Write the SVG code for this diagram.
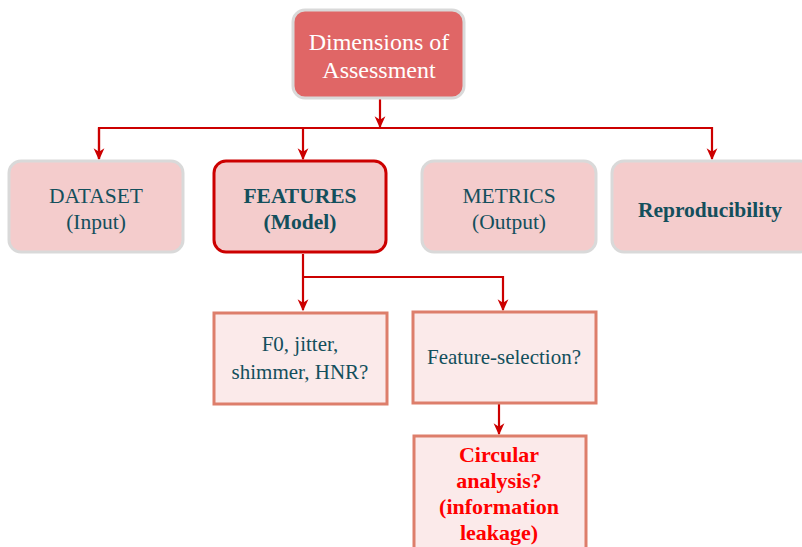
<svg xmlns="http://www.w3.org/2000/svg" width="802" height="547" viewBox="0 0 802 547">
<style>
text{font-family:"Liberation Serif","DejaVu Serif",serif;text-anchor:middle;fill:#134f5c}
.top{fill:#e06666;stroke:#d9d9d9;stroke-width:3}
.mid{fill:#f4cccc;stroke:#d9d9d9;stroke-width:3}
.sel{fill:#f4cccc;stroke:#cc0000;stroke-width:3}
.low{fill:#fbeaea;stroke:#dd7e6b;stroke-width:3}
.t1{font-size:24px;fill:#ffffff}
.t2{font-size:21.5px}
.b{font-weight:bold}
.t3{font-size:21px}
.red{fill:#ff0000;font-weight:bold;font-size:22px}
.c{fill:none;stroke:#cc0000;stroke-width:2.2}
</style>
<defs>
<marker id="ah" viewBox="0 0 10 10" refX="9" refY="5" markerWidth="12" markerHeight="12" markerUnits="userSpaceOnUse" orient="auto">
<path d="M0,0.5 L10,5 L0,9.5 L3,5 Z" fill="#cc0000"/>
</marker>
</defs>
<g id="connectors">
<path class="c" d="M380,99 V127" marker-end="url(#ah)"/>
<path class="c" d="M99,159 V128 H712 V159" marker-end="url(#ah)"/>
<path class="c" d="M99,128 V159" marker-end="url(#ah)"/>
<path class="c" d="M303,128 V159" marker-end="url(#ah)"/>
<path class="c" d="M303,254 V310" marker-end="url(#ah)"/>
<path class="c" d="M303,277 H503 V310" marker-end="url(#ah)"/>
<path class="c" d="M499,404 V434" marker-end="url(#ah)"/>
</g>
<g id="dimensions">
<rect class="top" x="293" y="10" width="171" height="88" rx="12"/>
<text class="t1" x="379" y="50">Dimensions of</text>
<text class="t1" x="379" y="78">Assessment</text>
</g>
<g id="dataset">
<rect class="mid" x="9" y="161" width="174" height="91" rx="12"/>
<text class="t2" x="96" y="203">DATASET</text>
<text class="t2" x="96" y="229">(Input)</text>
</g>
<g id="features">
<rect class="sel" x="214" y="161" width="172" height="91" rx="12"/>
<text class="t2 b" x="300" y="203">FEATURES</text>
<text class="t2 b" x="300" y="229">(Model)</text>
</g>
<g id="metrics">
<rect class="mid" x="422" y="161" width="174" height="91" rx="12"/>
<text class="t2" x="509" y="203">METRICS</text>
<text class="t2" x="509" y="229">(Output)</text>
</g>
<g id="reproducibility">
<rect class="mid" x="612" y="161" width="200" height="91" rx="12"/>
<text class="t2 b" x="710" y="217">Reproducibility</text>
</g>
<g id="f0">
<rect class="low" x="214" y="313" width="173" height="91"/>
<text class="t3" x="300" y="351">F0, jitter,</text>
<text class="t3" x="300" y="379">shimmer, HNR?</text>
</g>
<g id="featureselection">
<rect class="low" x="413" y="312" width="183" height="91"/>
<text class="t3" x="504" y="364">Feature-selection?</text>
</g>
<g id="circular">
<rect class="low" x="414" y="436" width="172" height="120"/>
<text class="red" x="499" y="462">Circular</text>
<text class="red" x="499" y="488">analysis?</text>
<text class="red" x="499" y="514">(information</text>
<text class="red" x="499" y="540">leakage)</text>
</g>
</svg>
